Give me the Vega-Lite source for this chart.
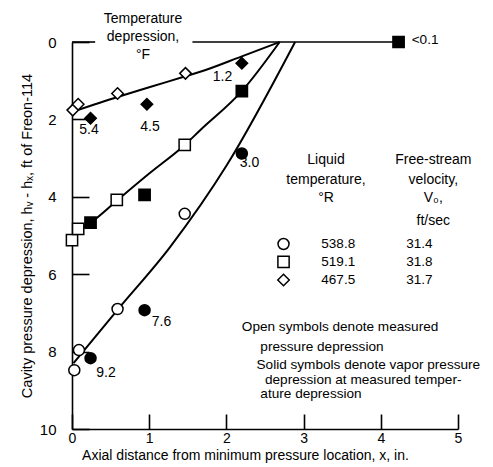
{
  "$schema": "https://vega.github.io/schema/vega-lite/v6.json",
  "width": 386,
  "height": 387,
  "autosize": {"type": "none"},
  "padding": {"left": 72, "top": 42, "right": 35, "bottom": 38},
  "background": "white",
  "config": {
    "view": {"stroke": null},
    "font": "Liberation Sans",
    "axis": {
      "grid": false,
      "domainColor": "black",
      "tickColor": "black",
      "labelColor": "black",
      "titleColor": "black",
      "domainWidth": 1.6,
      "tickWidth": 1.6,
      "labelFont": "Liberation Sans",
      "titleFont": "Liberation Sans",
      "labelFontSize": 15,
      "titleFontSize": 14,
      "titleFontWeight": "normal",
      "labelFlush": false,
      "labelOverlap": false,
      "labelBound": false
    },
    "text": {"font": "Liberation Sans", "fontSize": 14, "color": "black"}
  },
  "datasets": {
    "curves": [
      {"series": "467.5", "x": 0.04, "y": 1.78},
      {"series": "467.5", "x": 0.59, "y": 1.42},
      {"series": "467.5", "x": 1.0, "y": 1.17},
      {"series": "467.5", "x": 1.48, "y": 0.88},
      {"series": "467.5", "x": 1.66, "y": 0.77},
      {"series": "467.5", "x": 2.2, "y": 0.37},
      {"series": "467.5", "x": 2.69, "y": 0},
      {"series": "519.1", "x": 0.04, "y": 4.92},
      {"series": "519.1", "x": 0.24, "y": 4.67},
      {"series": "519.1", "x": 0.58, "y": 4.1},
      {"series": "519.1", "x": 1.0, "y": 3.4},
      {"series": "519.1", "x": 1.46, "y": 2.66},
      {"series": "519.1", "x": 1.66, "y": 2.28},
      {"series": "519.1", "x": 2.2, "y": 1.27},
      {"series": "519.1", "x": 2.69, "y": 0},
      {"series": "538.8", "x": 0.02, "y": 8.3},
      {"series": "538.8", "x": 0.59, "y": 6.92},
      {"series": "538.8", "x": 1.27, "y": 5.3},
      {"series": "538.8", "x": 2.0, "y": 3.2},
      {"series": "538.8", "x": 2.89, "y": 0}
    ],
    "topline": [
      {"segment": "a", "x": 0, "y": 0},
      {"segment": "a", "x": 0.3, "y": 0},
      {"segment": "b", "x": 1.56, "y": 0},
      {"segment": "b", "x": 4.23, "y": 0}
    ],
    "points": [
      {"series": "467.5", "kind": "measured", "x": 0.01, "y": 1.76},
      {"series": "467.5", "kind": "measured", "x": 0.08, "y": 1.61},
      {"series": "467.5", "kind": "measured", "x": 0.59, "y": 1.33},
      {"series": "467.5", "kind": "measured", "x": 1.47, "y": 0.81},
      {"series": "519.1", "kind": "measured", "x": 0.0, "y": 5.12},
      {"series": "519.1", "kind": "measured", "x": 0.08, "y": 4.83},
      {"series": "519.1", "kind": "measured", "x": 0.58, "y": 4.08},
      {"series": "519.1", "kind": "measured", "x": 1.46, "y": 2.66},
      {"series": "538.8", "kind": "measured", "x": 0.03, "y": 8.48},
      {"series": "538.8", "kind": "measured", "x": 0.09, "y": 7.96},
      {"series": "538.8", "kind": "measured", "x": 0.59, "y": 6.9},
      {"series": "538.8", "kind": "measured", "x": 1.46, "y": 4.44},
      {"series": "467.5", "kind": "vapor", "x": 0.24, "y": 1.97},
      {"series": "467.5", "kind": "vapor", "x": 0.97, "y": 1.61},
      {"series": "467.5", "kind": "vapor", "x": 2.2, "y": 0.55},
      {"series": "519.1", "kind": "vapor", "x": 0.24, "y": 4.67},
      {"series": "519.1", "kind": "vapor", "x": 0.94, "y": 3.95},
      {"series": "519.1", "kind": "vapor", "x": 2.2, "y": 1.27},
      {"series": "519.1", "kind": "vapor", "x": 4.23, "y": 0},
      {"series": "538.8", "kind": "vapor", "x": 0.24, "y": 8.17},
      {"series": "538.8", "kind": "vapor", "x": 0.94, "y": 6.93},
      {"series": "538.8", "kind": "vapor", "x": 2.2, "y": 2.88}
    ],
    "legend": [
      {"series": "538.8", "kind": "measured", "velocity": "31.4", "x": 2.74, "y": 5.22, "xt": 3.23, "xv": 4.33},
      {"series": "519.1", "kind": "measured", "velocity": "31.8", "x": 2.74, "y": 5.68, "xt": 3.23, "xv": 4.33},
      {"series": "467.5", "kind": "measured", "velocity": "31.7", "x": 2.74, "y": 6.15, "xt": 3.23, "xv": 4.33}
    ],
    "centered": [
      {"t": "Temperature", "x": 0.92, "y": -0.6},
      {"t": "depression,", "x": 0.92, "y": -0.12},
      {"t": "°F", "x": 0.92, "y": 0.33},
      {"t": "5.4", "x": 0.22, "y": 2.27},
      {"t": "4.5", "x": 1.01, "y": 2.2},
      {"t": "1.2", "x": 1.95, "y": 0.9},
      {"t": "3.0", "x": 2.3, "y": 3.13},
      {"t": "7.6", "x": 1.16, "y": 7.24},
      {"t": "9.2", "x": 0.44, "y": 8.56},
      {"t": "Liquid", "x": 3.29, "y": 3.05},
      {"t": "temperature,", "x": 3.29, "y": 3.57},
      {"t": "°R", "x": 3.29, "y": 4.02},
      {"t": "Free-stream", "x": 4.68, "y": 3.05},
      {"t": "velocity,", "x": 4.68, "y": 3.57},
      {"t": "V₀,", "x": 4.68, "y": 4.04},
      {"t": "ft/sec", "x": 4.68, "y": 4.62}
    ],
    "lefttext": [
      {"t": "<0.1", "x": 4.4, "y": -0.05},
      {"t": "Open symbols denote measured", "x": 2.2, "y": 7.36},
      {"t": "pressure depression", "x": 2.44, "y": 7.87},
      {"t": "Solid symbols denote vapor pressure", "x": 2.39, "y": 8.35},
      {"t": "depression at measured temper-", "x": 2.5, "y": 8.73},
      {"t": "ature depression", "x": 2.44, "y": 9.1}
    ]
  },
  "encoding": {
    "x": {
      "field": "x",
      "type": "quantitative",
      "scale": {"domain": [0, 5], "nice": false, "zero": false},
      "axis": {
        "values": [0, 1, 2, 3, 4, 5],
        "tickSize": -15,
        "labelPadding": 17,
        "labelFontSize": 14,
        "title": "Axial distance from minimum pressure location,  x,  in.",
        "titleX": 173,
        "titleY": 30,
        "titleBaseline": "alphabetic"
      }
    },
    "y": {
      "field": "y",
      "type": "quantitative",
      "scale": {"domain": [0, 10], "reverse": true, "nice": false, "zero": false},
      "axis": {
        "values": [0, 2, 4, 6, 8, 10],
        "tickSize": -17,
        "labelPadding": 33,
        "title": "Cavity pressure depression,  hᵥ - hₓ,  ft of Freon-114",
        "titleFontSize": 14.5,
        "titlePadding": 5
      }
    }
  },
  "layer": [
    {
      "data": {"name": "curves"},
      "mark": {"type": "line", "interpolate": "monotone", "color": "black", "strokeWidth": 2},
      "encoding": {"detail": {"field": "series", "type": "nominal"}}
    },
    {
      "data": {"name": "topline"},
      "mark": {"type": "line", "color": "black", "strokeWidth": 1.6},
      "encoding": {"detail": {"field": "segment", "type": "nominal"}}
    },
    {
      "data": {"name": "points"},
      "mark": {"type": "point", "filled": true, "stroke": "black", "strokeWidth": 1.5, "opacity": 1},
      "encoding": {
        "shape": {"field": "series", "type": "nominal", "scale": {"domain": ["538.8", "519.1", "467.5"], "range": ["circle", "square", "diamond"]}, "legend": null},
        "size": {"field": "series", "type": "ordinal", "scale": {"domain": ["538.8", "519.1", "467.5"], "range": [121, 132, 170]}, "legend": null},
        "fill": {"field": "kind", "type": "nominal", "scale": {"domain": ["measured", "vapor"], "range": ["white", "black"]}, "legend": null}
      }
    },
    {
      "data": {"name": "legend"},
      "mark": {"type": "point", "filled": true, "stroke": "black", "strokeWidth": 1.5, "opacity": 1},
      "encoding": {
        "shape": {"field": "series", "type": "nominal", "legend": null},
        "size": {"field": "series", "type": "ordinal", "legend": null},
        "fill": {"field": "kind", "type": "nominal", "legend": null}
      }
    },
    {
      "data": {"name": "legend"},
      "mark": {"type": "text", "align": "left", "baseline": "middle", "fontSize": 13.5},
      "encoding": {"x": {"field": "xt", "type": "quantitative"}, "text": {"field": "series"}}
    },
    {
      "data": {"name": "legend"},
      "mark": {"type": "text", "align": "left", "baseline": "middle", "fontSize": 13.5},
      "encoding": {"x": {"field": "xv", "type": "quantitative"}, "text": {"field": "velocity"}}
    },
    {
      "data": {"name": "centered"},
      "mark": {"type": "text", "align": "center", "baseline": "middle"},
      "encoding": {"text": {"field": "t"}}
    },
    {
      "data": {"name": "lefttext"},
      "mark": {"type": "text", "align": "left", "baseline": "middle", "fontSize": 13.6},
      "encoding": {"text": {"field": "t"}}
    }
  ]
}
